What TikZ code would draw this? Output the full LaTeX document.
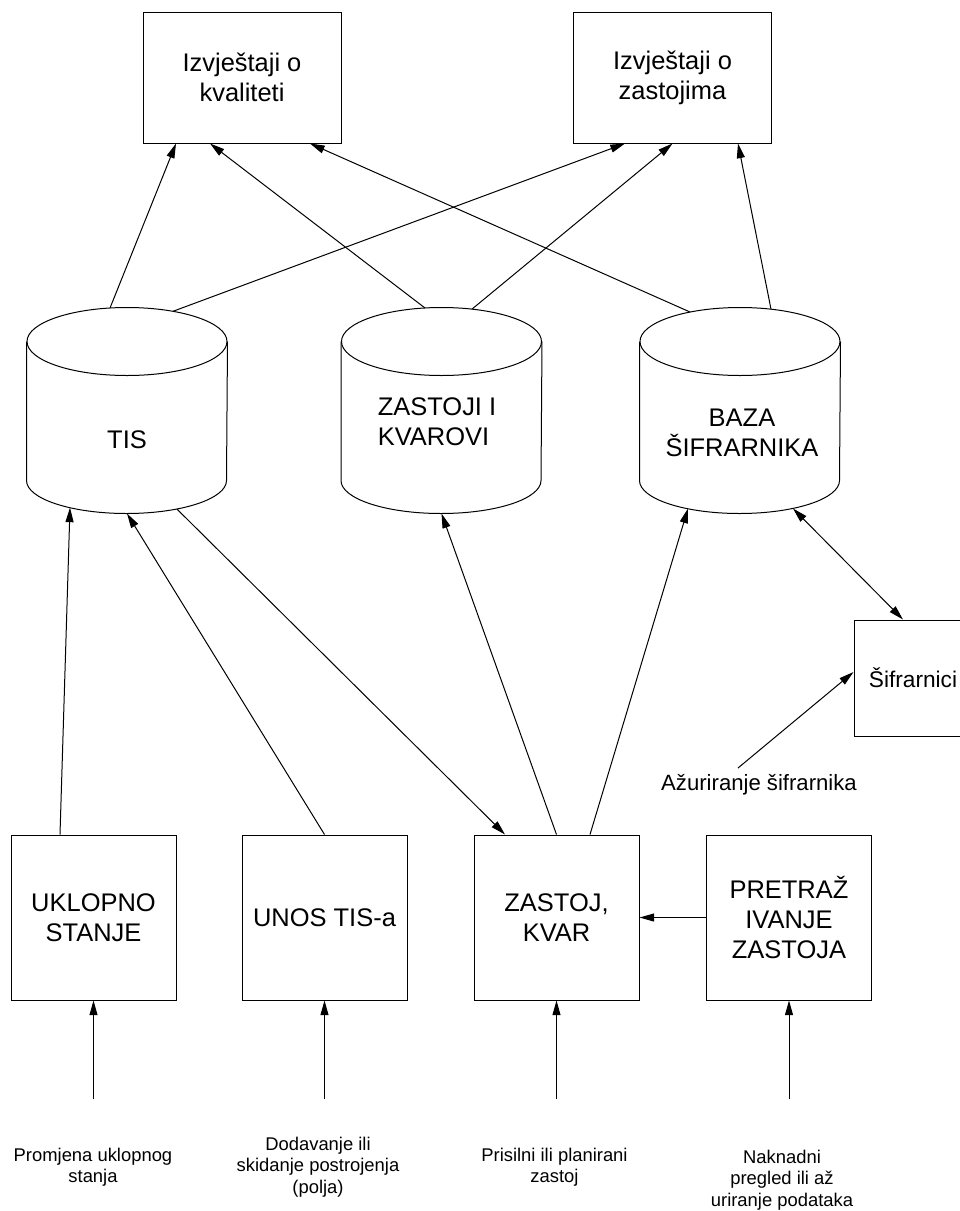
\documentclass[tikz,border=0pt]{standalone}
\usepackage{fontspec}
\setmainfont{Liberation Sans}
\usetikzlibrary{arrows.meta,calc}
\newcommand\drawcyl[1]{%
  \draw ([yshift=-25.5pt]#1.north west) -- ([yshift=24.75pt]#1.south west)
    arc[start angle=180,end angle=360,x radius=75pt,y radius=24.75pt]
    -- ([yshift=-25.5pt]#1.north east);
  \draw ([yshift=-25.5pt]#1.north) ellipse [x radius=75pt,y radius=25.5pt];}
\begin{document}
\begin{tikzpicture}[x=0.75pt,y=-0.75pt,line width=0.75pt,
  arr/.style={-{Triangle[length=11pt,width=6pt]}},
  dbl/.style={{Triangle[length=11pt,width=6pt]}-{Triangle[length=11pt,width=6pt]}},
  bigfont/.style={font=\fontsize{19.1pt}{22.5pt}\selectfont},
  rep/.style={draw,inner sep=0pt,minimum width=148.5pt,minimum height=98.25pt,align=center,bigfont},
  proc/.style={draw,inner sep=0pt,minimum width=123.75pt,minimum height=123.75pt,align=center,bigfont},
  cyl/.style={inner sep=0pt,minimum width=150pt,minimum height=153.75pt},
  cyltext/.style={inner sep=0pt,bigfont},
  small/.style={inner sep=0pt,align=center,font=\fontsize{13.8pt}{16pt}\selectfont},
  mid/.style={inner sep=0pt,align=center,font=\fontsize{16.6pt}{20pt}\selectfont}]
\useasboundingbox (0,0) rectangle (960,1211);
% report boxes
\node[rep] (kval) at (242,77.5) {Izvještaji o\\kvaliteti};
\node[rep] (zast) at (672.5,77.5) {Izvještaji o\\zastojima};
% databases
\node[cyl] (tis) at (127,410.5) {};
\node[cyl] (zik) at (441.5,410.5) {};
\node[cyl] (baza) at (740,410.5) {};
\drawcyl{tis}
\drawcyl{zik}
\drawcyl{baza}
\node[cyltext] (tisT) at ($(tis.center)+(0,29.5)$) {TIS};
\node[cyltext,align=left] (zikT) at ($(zik.center)+(-4.5,11.5)$) {ZASTOJI I\\KVAROVI};
\node[cyltext,align=center] (bazaT) at ($(baza.center)+(2,22.5)$) {BAZA\\ŠIFRARNIKA};
% processes
\node[proc] (ukl) at (93.5,917.5) {UKLOPNO\\STANJE};
\node[proc] (unos) at (324.5,917.5) {UNOS TIS-a};
\node[proc] (zk) at (556.5,917.5) {ZASTOJ,\\KVAR};
\node[proc] (pret) at (789,917.5) {PRETRAŽ\\IVANJE\\ZASTOJA};
\node[draw,inner sep=0pt,minimum width=88.5pt,minimum height=87pt,font=\fontsize{17pt}{20pt}\selectfont] (sif) at (913,678) {Šifrarnici};
\node[mid] (azur) at (759,785) {Ažuriranje šifrarnika};
% inputs
\coordinate (in1) at (93.5,1099);
\coordinate (in2) at (324.5,1099);
\coordinate (in3) at (556.5,1099);
\coordinate (in4) at (789,1099);
\node[small] (l1) at (93,1167) {Promjena uklopnog\\stanja};
\node[small] (l2) at (318,1167) {Dodavanje ili\\skidanje postrojenja\\(polja)};
\node[small] (l3) at (554.5,1167) {Prisilni ili planirani\\zastoj};
\node[small] (l4) at (782,1180) {Naknadni\\pregled ili až\\uriranje podataka};
% connectors to reports
\draw[arr] ($(tis.north)+(-17,0.5)$) -- ($(kval.south)+(-66,0)$);
\draw[arr] ($(zik.north)+(-16.5,0.5)$) -- ($(kval.south)+(-32,0)$);
\draw[arr] ($(baza.north)+(-50,4.5)$) -- ($(kval.south)+(68,0)$);
\draw[arr] ($(tis.north)+(46,3.8)$) -- ($(zast.south)+(-47.5,0)$);
\draw[arr] ($(zik.north)+(30.5,1.6)$) -- (zast.south);
\draw[arr] ($(baza.north)+(31,1.6)$) -- ($(zast.south)+(65.5,0)$);
% connectors to databases
\draw[arr] ($(ukl.north)+(-33.5,0)$) -- ($(tis.south)+(-57,-6)$);
\draw[arr] (unos.north) -- (tis.south);
\draw[arr] ($(tis.south)+(50,-4.4)$) -- ($(zk.north)+(-51.5,0)$);
\draw[arr] (zk.north) -- (zik.south);
\draw[arr] ($(zk.north)+(33.5,0)$) -- ($(baza.south)+(-52,-5)$);
\draw[dbl] ($(baza.south)+(53,-5)$) -- ($(sif.north)+(-10,0)$);
\draw[arr] ($(azur.center)+(-21,-17)$) -- ($(sif.west)+(0,-6)$);
\draw[arr] (pret.west) -- (zk.east);
% inputs
\draw[arr] (in1) -- (ukl.south);
\draw[arr] (in2) -- (unos.south);
\draw[arr] (in3) -- (zk.south);
\draw[arr] (in4) -- (pret.south);
\end{tikzpicture}
\end{document}
